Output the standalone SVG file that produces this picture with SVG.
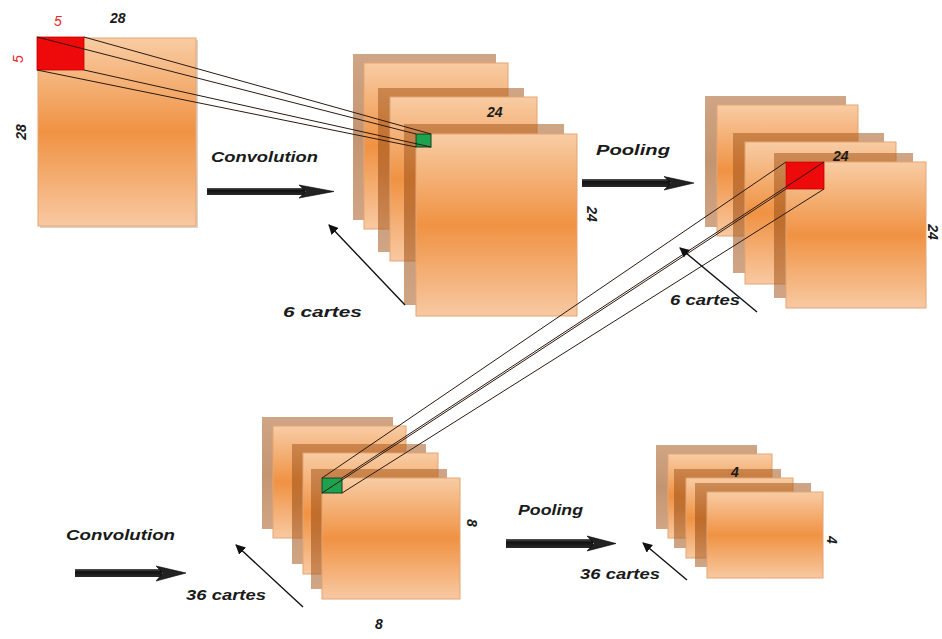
<svg xmlns="http://www.w3.org/2000/svg" width="942" height="639" viewBox="0 0 942 639">
  <defs>
    <linearGradient id="mapFill" x1="0" y1="0" x2="0" y2="1">
      <stop offset="0" stop-color="#f8cca4"/>
      <stop offset="0.5" stop-color="#f09243"/>
      <stop offset="1" stop-color="#f8c9a2"/>
    </linearGradient>
    <linearGradient id="backFill" x1="0" y1="0" x2="0" y2="1">
      <stop offset="0" stop-color="#a85c22" stop-opacity="0.55"/>
      <stop offset="0.5" stop-color="#a0531a" stop-opacity="0.62"/>
      <stop offset="1" stop-color="#a85c22" stop-opacity="0.55"/>
    </linearGradient>
    <linearGradient id="barFill" x1="0" y1="0" x2="0" y2="1">
      <stop offset="0" stop-color="#555"/>
      <stop offset="0.35" stop-color="#111"/>
      <stop offset="1" stop-color="#2a2a2a"/>
    </linearGradient>
    <marker id="tip" viewBox="0 0 10 10" refX="9" refY="5" markerWidth="10" markerHeight="10" markerUnits="userSpaceOnUse" orient="auto">
      <path d="M0,0 L10,5 L0,10 z" fill="#111"/>
    </marker>
  </defs>
  <style>
    .map { fill: url(#mapFill); stroke: #e3a574; stroke-width: 1; }
    .back { fill: url(#backFill); }
    .lbl { font-family: "Liberation Sans", Arial, sans-serif; font-weight: bold; font-style: italic; fill: #1a1a1a; }
    .dim { font-family: "Liberation Sans", Arial, sans-serif; font-weight: bold; font-style: italic; font-size: 14px; fill: #1a1a1a; }
    .red { font-family: "Liberation Sans", Arial, sans-serif; font-style: italic; font-size: 14px; fill: #e8262a; }
    .link { stroke: #2b1a10; stroke-width: 1; fill: none; }
    .ptr { stroke: #111; stroke-width: 1.4; fill: none; marker-end: url(#tip); }
    .bar { fill: url(#barFill); }
  </style>
  <rect width="942" height="639" fill="#ffffff"/>

  <!-- input image 28x28 -->
  <g id="input">
    <rect x="40" y="40" width="158" height="188" fill="#b9a998" opacity="0.5"/>
    <rect class="map" x="38" y="38" width="158" height="188"/>
    <rect x="37" y="37" width="47" height="33" fill="#ee0a0a" stroke="#c00000" stroke-width="0.8"/>
    <text class="red" x="54" y="26">5</text>
    <text class="dim" x="110" y="23">28</text>
    <text class="red" transform="translate(23,59) rotate(-90)" text-anchor="middle">5</text>
    <text class="dim" transform="translate(26,132) rotate(-90)" text-anchor="middle">28</text>
  </g>

  <!-- first convolution layer: 6 maps 24x24 -->
  <g id="conv1">
    <rect class="back" x="353" y="54" width="143" height="166"/>
    <rect class="map" x="364" y="63" width="144" height="166"/>
    <rect class="back" x="378" y="88" width="146" height="164"/>
    <rect class="map" x="390" y="97" width="147" height="164"/>
    <rect class="back" x="404" y="124" width="160" height="181"/>
    <rect class="map" x="416" y="134" width="161" height="182"/>
    <rect x="416" y="134" width="15" height="13" fill="#1fa24e" stroke="#0c4020" stroke-width="1"/>
    <text class="dim" x="487" y="117">24</text>
    <text class="dim" transform="translate(587,214) rotate(90)" text-anchor="middle">24</text>
  </g>

  <!-- first pooling layer: 6 maps -->
  <g id="pool1">
    <rect class="back" x="705" y="96" width="141" height="131"/>
    <rect class="map" x="717" y="105" width="141" height="131"/>
    <rect class="back" x="733" y="133" width="151" height="140"/>
    <rect class="map" x="745" y="142" width="151" height="142"/>
    <rect class="back" x="774" y="153" width="139" height="145"/>
    <rect class="map" x="786" y="162" width="140" height="146"/>
    <rect x="786" y="162" width="38" height="27" fill="#ee0a0a" stroke="#c00000" stroke-width="0.8"/>
    <text class="dim" x="833" y="161">24</text>
    <text class="dim" transform="translate(928,232) rotate(90)" text-anchor="middle">24</text>
  </g>

  <!-- second convolution layer: 36 maps 8x8 -->
  <g id="conv2">
    <rect class="back" x="262" y="417" width="131" height="112"/>
    <rect class="map" x="273" y="426" width="133" height="112"/>
    <rect class="back" x="292" y="444" width="134" height="120"/>
    <rect class="map" x="303" y="453" width="135" height="121"/>
    <rect class="back" x="311" y="469" width="136" height="120"/>
    <rect class="map" x="322" y="478" width="138" height="121"/>
    <rect x="322" y="478" width="20" height="15" fill="#1fa24e" stroke="#0c4020" stroke-width="1"/>
    <text class="dim" transform="translate(467,523) rotate(90)" text-anchor="middle">8</text>
    <text class="dim" x="375" y="629">8</text>
  </g>

  <!-- second pooling layer: 36 maps 4x4 -->
  <g id="pool2">
    <rect class="back" x="656" y="445" width="101" height="84"/>
    <rect class="map" x="668" y="454" width="104" height="84"/>
    <rect class="back" x="674" y="469" width="107" height="79"/>
    <rect class="map" x="686" y="478" width="107" height="80"/>
    <rect class="back" x="695" y="483" width="116" height="84"/>
    <rect class="map" x="707" y="492" width="116" height="86"/>
    <text class="dim" x="731" y="477">4</text>
    <text class="dim" transform="translate(827,540) rotate(90)" text-anchor="middle">4</text>
  </g>

  <!-- operation arrows with their captions -->
  <g id="op-convolution-1">
    <text class="lbl" x="211" y="162" font-size="15" textLength="107" lengthAdjust="spacingAndGlyphs">Convolution</text>
    <rect class="bar" x="207" y="188" width="98" height="7"/>
    <path d="M299,185 L334,191.5 L299,198 L306,191.5 z" fill="#222" stroke="#000" stroke-width="0.6"/>
  </g>
  <g id="op-pooling-1">
    <text class="lbl" x="596" y="155" font-size="15" textLength="74" lengthAdjust="spacingAndGlyphs">Pooling</text>
    <rect class="bar" x="582" y="179" width="88" height="8"/>
    <path d="M664,176.5 L694,183 L664,190 L671,183 z" fill="#222" stroke="#000" stroke-width="0.6"/>
  </g>
  <g id="op-convolution-2">
    <text class="lbl" x="66" y="540" font-size="15" textLength="109" lengthAdjust="spacingAndGlyphs">Convolution</text>
    <rect class="bar" x="75" y="569" width="87" height="8"/>
    <path d="M156,566 L186,573 L156,581 L163,573 z" fill="#222" stroke="#000" stroke-width="0.6"/>
  </g>
  <g id="op-pooling-2">
    <text class="lbl" x="518" y="515" font-size="15" textLength="65" lengthAdjust="spacingAndGlyphs">Pooling</text>
    <rect class="bar" x="506" y="539" width="87" height="9"/>
    <path d="M587,536 L616,543.5 L587,551 L594,543.5 z" fill="#222" stroke="#000" stroke-width="0.6"/>
  </g>

  <!-- map-count captions -->
  <g id="count-labels">
    <text class="lbl" x="283" y="317" font-size="14" textLength="79" lengthAdjust="spacingAndGlyphs">6 cartes</text>
    <text class="lbl" x="670" y="305" font-size="14" textLength="70" lengthAdjust="spacingAndGlyphs">6 cartes</text>
    <text class="lbl" x="186" y="600" font-size="14" textLength="80" lengthAdjust="spacingAndGlyphs">36 cartes</text>
    <text class="lbl" x="580" y="579" font-size="14" textLength="80" lengthAdjust="spacingAndGlyphs">36 cartes</text>
  </g>

  <!-- connectors: receptive-field projections and count pointers -->
  <g id="connectors">
    <line class="link" x1="37" y1="37" x2="416" y2="134"/>
    <line class="link" x1="84" y1="37" x2="431" y2="134"/>
    <line class="link" x1="37" y1="70" x2="416" y2="147"/>
    <line class="link" x1="84" y1="70" x2="431" y2="147"/>

    <line class="link" x1="786" y1="162" x2="322" y2="478"/>
    <line class="link" x1="824" y1="162" x2="342" y2="478"/>
    <line class="link" x1="786" y1="189" x2="322" y2="493"/>
    <line class="link" x1="824" y1="189" x2="342" y2="493"/>

    <line class="ptr" x1="405" y1="305" x2="329" y2="225"/>
    <line class="ptr" x1="757" y1="312" x2="680" y2="248"/>
    <line class="ptr" x1="303" y1="607" x2="236" y2="545"/>
    <line class="ptr" x1="687" y1="580" x2="643" y2="543"/>
  </g>
</svg>
